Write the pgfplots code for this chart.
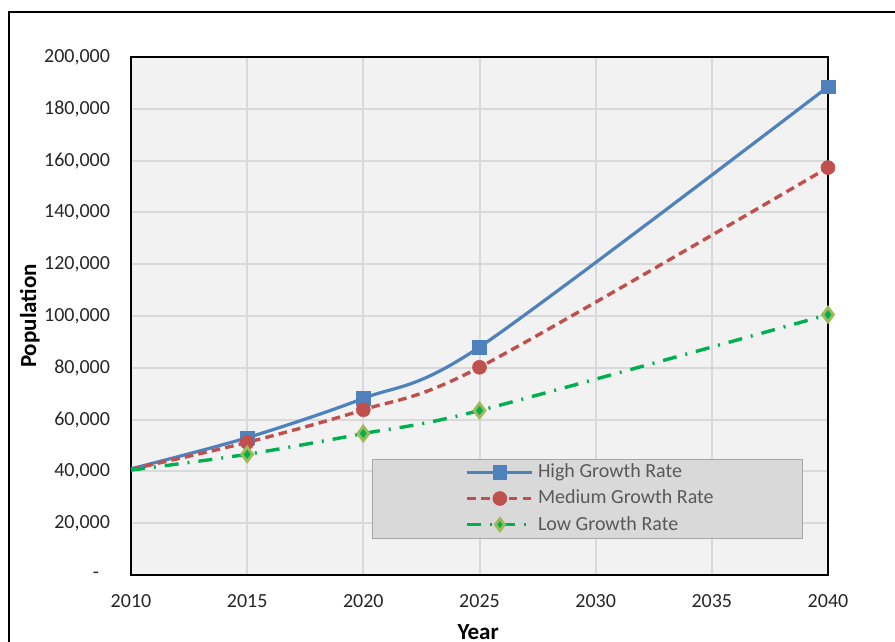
\documentclass[border=0pt]{standalone}
\usepackage{pgfplots}
\pgfplotsset{compat=1.18}
\usepackage{fontspec}
\setmainfont{Carlito}

\definecolor{hiblue}{HTML}{4F81BD}
\definecolor{medred}{HTML}{C0504D}
\definecolor{logreen}{HTML}{00B050}
\definecolor{loolive}{HTML}{9BBB59}
\definecolor{plotbg}{HTML}{F2F2F2}
\definecolor{gridgray}{HTML}{D9D9D9}
\definecolor{legbg}{HTML}{D9D9D9}
\definecolor{legtext}{HTML}{595959}
\definecolor{ticktext}{HTML}{262626}

\begin{document}
\begin{tikzpicture}
% page size: 447.5pt x 321pt, axis box lower-left corner at the origin
\useasboundingbox (-65.5pt,-33.5pt) rectangle (382pt,287.5pt);
% outer chart frame (left and top edges)
\draw[line width=1pt, black] (-61pt,-40pt) -- (-61pt,281.5pt) -- (390pt,281.5pt);

\begin{axis}[
  at={(0,0)}, anchor=south west,
  scale only axis,
  width=348.5pt, height=259pt,
  xmin=2010, xmax=2040,
  ymin=0, ymax=200000,
  xtick={2010,2015,...,2040},
  ytick={0,20000,...,200000},
  yticklabels={{-\rule{5.5pt}{0pt}},{20,000},{40,000},{60,000},{80,000},{100,000},{120,000},{140,000},{160,000},{180,000},{200,000}},
  xticklabel style={/pgf/number format/1000 sep={}},
  /pgf/number format/assume math mode=true,
  tick label style={font=\fontsize{10pt}{12pt}\selectfont, text=ticktext},
  yticklabel style={xshift=-7pt},
  xticklabel style={yshift=-6pt},
  major tick length=0pt,
  scaled y ticks=false,
  axis background/.style={fill=plotbg},
  grid=major,
  major grid style={gridgray, line width=1pt},
  axis line style={black, line width=0.7pt},
  xlabel={\textbf{Year}},
  ylabel={\textbf{Population}},
  label style={font=\fontsize{11.5pt}{13pt}\selectfont, text=black},
  xlabel style={at={(axis description cs:0.498,-0.11)}, anchor=center},
  ylabel style={at={(axis description cs:-0.145,0.5)}, anchor=center, rotate=0},
  legend style={
    draw=none, fill=none,
    at={(axis description cs:0.661,0.1477)}, anchor=center,
    font=\fontsize{10pt}{12pt}\selectfont, text=legtext,
    row sep=0.6pt,
    /tikz/every even column/.append style={column sep=3pt},
  },
  legend cell align=left,
  every axis plot/.append style={smooth, tension=0.5},
]

\addplot[hiblue, line width=1.6pt, mark=square*, mark size=3.4pt,
  mark indices={2,3,4,5},
  mark options={solid, fill=hiblue, draw=hiblue, line width=0.3pt},
  legend image code/.code={\draw[mark indices={2}] plot coordinates {(0cm,0cm) (0.57cm,0cm) (1.14cm,0cm)};}]
  coordinates {(2010,41000) (2015,53000) (2020,68200) (2025,88000) (2040,188500)};
\addlegendentry{High Growth Rate}

\addplot[medred, line width=1.7pt, dash pattern=on 4.3pt off 2.6pt, mark=*, mark size=3.5pt,
  mark indices={2,3,4,5},
  mark options={solid, fill=medred, draw=medred, line width=0.3pt},
  legend image code/.code={\draw[mark indices={2}] plot coordinates {(0cm,0cm) (0.57cm,0cm) (1.14cm,0cm)};}]
  coordinates {(2010,40800) (2015,51200) (2020,63800) (2025,80200) (2040,157300)};
\addlegendentry{Medium Growth Rate}

\addplot[logreen, line width=1.7pt, dash pattern=on 7pt off 4.5pt on 1pt off 4.5pt, mark=diamond*, mark size=3.6pt,
  mark indices={2,3,4,5},
  mark options={solid, fill=logreen, draw=loolive, line width=1.4pt},
  legend image code/.code={\draw[mark indices={2}, mark size=3pt] plot coordinates {(0cm,0cm) (0.57cm,0cm) (1.14cm,0cm)};}]
  coordinates {(2010,40500) (2015,46600) (2020,54600) (2025,63500) (2040,100500)};
\addlegendentry{Low Growth Rate}

% legend panel
\fill[legbg] (axis description cs:0.3458,0.0714) rectangle (axis description cs:0.9627,0.2239);
\draw[gray!70, line width=0.5pt] (axis description cs:0.3458,0.0714) rectangle (axis description cs:0.9627,0.2239);
\end{axis}
\end{tikzpicture}
\end{document}
